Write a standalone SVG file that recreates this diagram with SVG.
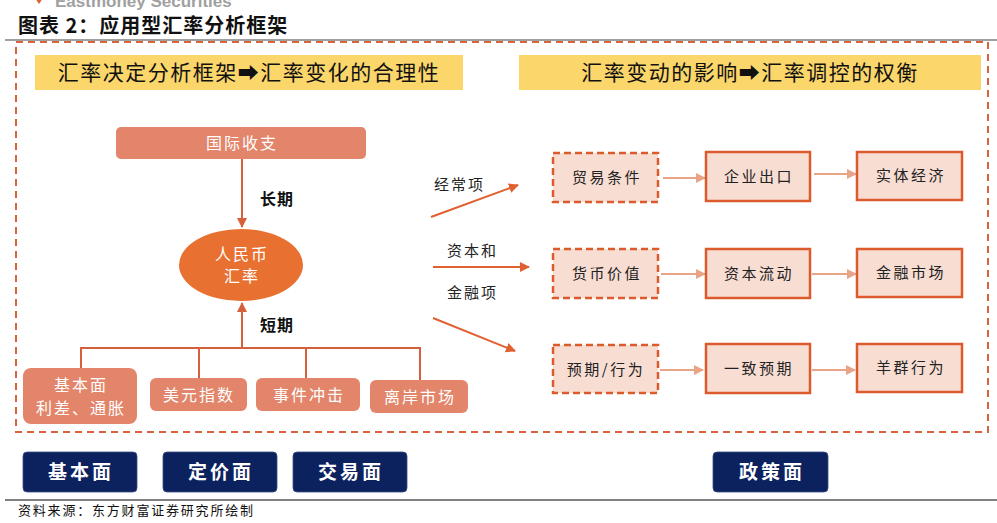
<svg xmlns="http://www.w3.org/2000/svg" width="997" height="523" viewBox="0 0 997 523">
<defs>
<style>
.t{font-family:"Noto Sans CJK SC","Noto Sans",sans-serif;}
.lbox{fill:#E2856A;}
.lt{fill:#ffffff;font-size:16px;letter-spacing:2px;text-anchor:middle;}
.hdr{fill:#FBD66A;}
.ht{fill:#111;font-size:21px;text-anchor:middle;letter-spacing:1.5px;}
.db{fill:#F8DDD3;stroke:#DC5B2C;stroke-width:2.5;stroke-dasharray:7 4;}
.sb{fill:#F8DDD3;stroke:#DC5B2C;stroke-width:2.5;}
.rt{fill:#222;font-size:15px;text-anchor:middle;letter-spacing:2.5px;}
.nb{fill:#0C225E;stroke:#3a4f86;stroke-width:0.8;}
.nt{fill:#ffffff;font-size:19px;text-anchor:middle;letter-spacing:3px;font-weight:bold;}
.ml{fill:#222;font-size:15px;letter-spacing:2px;}
.conn{stroke:#D6603A;stroke-width:2;fill:none;}
.marr{stroke:#E0602F;stroke-width:2;fill:none;}
.larr{stroke:#E9A487;stroke-width:2;fill:none;}
</style>
<marker id="ah" viewBox="0 0 10 10" refX="9" refY="5" markerWidth="5" markerHeight="5" orient="auto"><path d="M0,0 L10,5 L0,10 z" fill="#D6603A"/></marker>
<marker id="ahm" viewBox="0 0 10 10" refX="9" refY="5" markerWidth="5" markerHeight="5" orient="auto"><path d="M0,0 L10,5 L0,10 z" fill="#E0602F"/></marker>
<marker id="ahl" viewBox="0 0 10 10" refX="9" refY="5" markerWidth="5" markerHeight="5" orient="auto"><path d="M0,0 L10,5 L0,10 z" fill="#E9A487"/></marker>
</defs>
<rect width="997" height="523" fill="#ffffff"/>
<g id="brand">
<path d="M35,-2 L43,-2 L39,4 z" fill="#E0602F"/>
<text x="55" y="7" font-family="'Liberation Sans',Arial,sans-serif" font-size="17" font-weight="bold" fill="#a0a0a0">Eastmoney Securities</text>
</g>
<text x="18" y="33" class="t" font-size="20" font-weight="bold" fill="#111" letter-spacing="1">图表 2：应用型汇率分析框架</text>
<line x1="5" y1="40" x2="997" y2="40" stroke="#808080" stroke-width="1.5"/>
<rect x="16" y="42" width="972" height="390" fill="none" stroke="#D9643C" stroke-width="2" stroke-dasharray="7 5"/>
<g id="hdr1"><rect class="hdr" x="35" y="55" width="428" height="35"/><text class="t ht" x="249" y="80">汇率决定分析框架➡汇率变化的合理性</text></g>
<g id="hdr2"><rect class="hdr" x="519" y="55" width="462" height="35"/><text class="t ht" x="750" y="80">汇率变动的影响➡汇率调控的权衡</text></g>
<g id="connectors">
<line class="conn" x1="242" y1="159" x2="242" y2="227" marker-end="url(#ah)"/>
<line class="conn" x1="242" y1="348" x2="242" y2="303" marker-end="url(#ah)"/>
<polyline class="conn" points="81,368 81,348 420,348 420,380"/>
<line class="conn" x1="199" y1="348" x2="199" y2="378"/>
<line class="conn" x1="306" y1="348" x2="306" y2="378"/>
<line class="marr" x1="431" y1="217" x2="518" y2="185" marker-end="url(#ahm)"/>
<line class="marr" x1="433" y1="267" x2="529" y2="267" marker-end="url(#ahm)"/>
<line class="marr" x1="433" y1="318" x2="515" y2="351" marker-end="url(#ahm)"/>
<line class="larr" x1="663" y1="178" x2="705" y2="178" marker-end="url(#ahl)"/>
<line class="larr" x1="814" y1="174" x2="856" y2="174" marker-end="url(#ahl)"/>
<line class="larr" x1="661" y1="274" x2="705" y2="274" marker-end="url(#ahl)"/>
<line class="larr" x1="812" y1="274" x2="856" y2="274" marker-end="url(#ahl)"/>
<line class="larr" x1="660" y1="370" x2="703" y2="370" marker-end="url(#ahl)"/>
<line class="larr" x1="812" y1="370" x2="855" y2="370" marker-end="url(#ahl)"/>
<text class="t" x="260" y="205" font-size="16" font-weight="bold" fill="#111" letter-spacing="1">长期</text>
<text class="t" x="260" y="331" font-size="16" font-weight="bold" fill="#111" letter-spacing="1">短期</text>
<text class="t ml" x="434" y="190">经常项</text>
<text class="t ml" x="447" y="256">资本和</text>
<text class="t ml" x="447" y="298">金融项</text>
</g>
<g id="bop"><rect class="lbox" x="116" y="127" width="250" height="32" rx="5"/><text class="t lt" x="242" y="149">国际收支</text></g>
<g id="rmb"><ellipse cx="241" cy="265" rx="62" ry="36" fill="#E87132"/><text class="t lt" x="242" y="260">人民币</text><text class="t lt" x="242" y="282">汇率</text></g>
<g id="fund"><rect class="lbox" x="23" y="368" width="114" height="56" rx="8"/><text class="t lt" x="81" y="391">基本面</text><text class="t lt" x="81" y="414">利差、通胀</text></g>
<g id="usd"><rect class="lbox" x="150" y="378" width="97" height="33" rx="6"/><text class="t lt" x="199" y="401">美元指数</text></g>
<g id="event"><rect class="lbox" x="256" y="378" width="104" height="33" rx="6"/><text class="t lt" x="309" y="401">事件冲击</text></g>
<g id="offshore"><rect class="lbox" x="370" y="380" width="98" height="33" rx="6"/><text class="t lt" x="420" y="403">离岸市场</text></g>
<g id="tot"><rect class="db" x="553" y="153" width="105" height="49"/><text class="t rt" x="607" y="183">贸易条件</text></g>
<g id="export"><rect class="sb" x="706" y="152" width="104" height="49"/><text class="t rt" x="759" y="182">企业出口</text></g>
<g id="real"><rect class="sb" x="857" y="152" width="105" height="48"/><text class="t rt" x="911" y="181">实体经济</text></g>
<g id="cur"><rect class="db" x="553" y="249" width="105" height="49"/><text class="t rt" x="607" y="279">货币价值</text></g>
<g id="cap"><rect class="sb" x="706" y="249" width="104" height="49"/><text class="t rt" x="759" y="279">资本流动</text></g>
<g id="fin"><rect class="sb" x="857" y="249" width="105" height="48"/><text class="t rt" x="911" y="278">金融市场</text></g>
<g id="exp"><rect class="db" x="553" y="345" width="105" height="48"/><text class="t rt" x="606" y="375">预期/行为</text></g>
<g id="cons"><rect class="sb" x="706" y="344" width="104" height="49"/><text class="t rt" x="759" y="374">一致预期</text></g>
<g id="herd"><rect class="sb" x="857" y="344" width="105" height="48"/><text class="t rt" x="911" y="373">羊群行为</text></g>
<g id="b1"><rect class="nb" x="23" y="452" width="114" height="40" rx="4"/><text class="t nt" x="81" y="479">基本面</text></g>
<g id="b2"><rect class="nb" x="163" y="452" width="114" height="40" rx="4"/><text class="t nt" x="221" y="479">定价面</text></g>
<g id="b3"><rect class="nb" x="293" y="452" width="114" height="40" rx="4"/><text class="t nt" x="351" y="479">交易面</text></g>
<g id="b4"><rect class="nb" x="713" y="452" width="115" height="40" rx="4"/><text class="t nt" x="772" y="479">政策面</text></g>
<line x1="5" y1="500" x2="997" y2="500" stroke="#808080" stroke-width="2"/>
<text class="t" x="18" y="515" font-size="13" fill="#111" letter-spacing="1.8">资料来源：东方财富证券研究所绘制</text>
</svg>
